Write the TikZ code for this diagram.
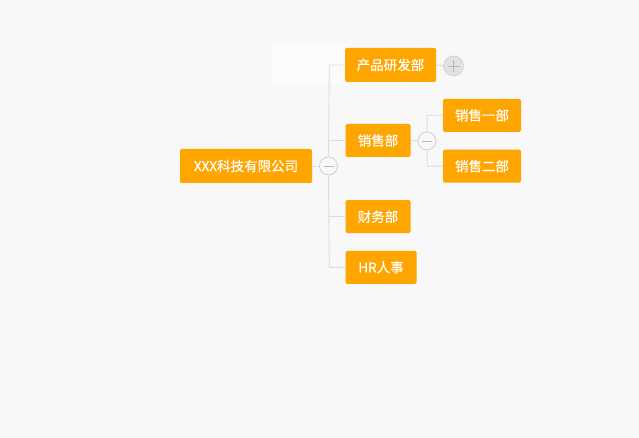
\documentclass[tikz,border=0pt]{standalone}
\usepackage{fontspec}
\usetikzlibrary{calc}
\setmainfont{Noto Sans CJK SC}
\newfontfamily\medfont[FakeBold=0.4]{Noto Sans CJK SC}
\definecolor{bg}{HTML}{F8F8F8}
\definecolor{faint}{HTML}{FBFBFB}
\definecolor{org}{HTML}{FFA500}
\definecolor{ln}{HTML}{DCDCDC}
\definecolor{circ}{HTML}{D0D0D0}
\definecolor{plusfill}{HTML}{E2E2E2}
\definecolor{plusln}{HTML}{B8B8B8}
\tikzset{
  box/.style={fill=org, text=white, rounded corners=1.5pt, inner sep=0pt, font=\medfont\fontsize{13.5}{13.5}\selectfont, anchor=center},
  conn/.style={draw=ln, line width=0.9pt},
  toggle/.style={circle, draw=circ, fill=bg, line width=0.8pt, minimum size=18pt, inner sep=0pt},
  togglep/.style={circle, draw=plusln!60, fill=plusfill, line width=0.8pt, minimum size=20pt, inner sep=0pt}
}
\begin{document}
\begin{tikzpicture}[x=1pt,y=-1pt]
\fill[bg] (0,0) rectangle (639,438);
\useasboundingbox (0,0) rectangle (639,438);
\fill[faint] (272,45) rectangle (345,85);
% nodes
\node[box, minimum width=132pt, minimum height=34pt] (root) at (246,166) {XXX科技有限公司};
\node[box, minimum width=91pt, minimum height=34pt] (rd) at (390.5,65) {产品研发部};
\node[box, minimum width=65pt, minimum height=33pt] (sales) at (378,140.5) {销售部};
\node[box, minimum width=78pt, minimum height=33pt] (s1) at (482,115.3) {销售一部};
\node[box, minimum width=78pt, minimum height=33pt] (s2) at (482,166.2) {销售二部};
\node[box, minimum width=65pt, minimum height=33pt] (fin) at (378,216.7) {财务部};
\node[box, minimum width=71pt, minimum height=33pt] (hr) at (381,267.3) {HR人事};
% toggles
\node[toggle] (tr) at (328.5,166) {};
\node[toggle] (ts) at (427,141) {};
\node[togglep] (tp) at (453.5,66) {};
\draw[plusln, line width=0.9pt] ($(tr)+(-5,0)$) -- ($(tr)+(5,0)$);
\draw[plusln, line width=0.9pt] ($(ts)+(-5,0)$) -- ($(ts)+(5,0)$);
\draw[plusln, line width=0.9pt] ($(tp)+(-6,0)$) -- ($(tp)+(6,0)$) ($(tp)+(0,-6)$) -- ($(tp)+(0,6)$);
% trunk coordinates
\coordinate (t1) at (329.3,65);
\coordinate (t2) at (329.3,267.3);
\coordinate (u1) at (427.3,115.3);
\coordinate (u2) at (427.3,166.2);
% connectors
\draw[conn] (root.east) -- (tr.west);
\draw[conn] (tr.north) -- (t1) -- (rd.west);
\draw[conn] (tr.south) -- (t2) -- (hr.west);
\draw[conn] (sales.west -| t1) -- (sales.west);
\draw[conn] (fin.west -| t1) -- (fin.west);
\draw[conn] (rd.east) -- (tp.west);
\draw[conn] (sales.east) -- (ts.west);
\draw[conn] (ts.north) -- (u1) -- (s1.west);
\draw[conn] (ts.south) -- (u2) -- (s2.west);
\end{tikzpicture}
\end{document}
